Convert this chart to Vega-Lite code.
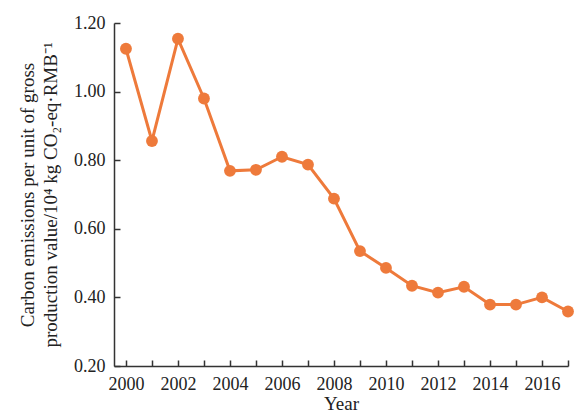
{
  "$schema": "https://vega.github.io/schema/vega-lite/v6.json",
  "width": 454,
  "height": 343,
  "autosize": {"type": "none"},
  "padding": {"left": 114, "top": 23, "right": 13, "bottom": 48},
  "background": "white",
  "config": {
    "view": {"stroke": null},
    "font": "Liberation Serif",
    "axis": {
      "grid": false,
      "domainColor": "#333333",
      "domainWidth": 1.5,
      "tickColor": "#333333",
      "tickWidth": 1.5,
      "tickSize": -6,
      "labelFont": "Liberation Serif",
      "labelFontSize": 18,
      "labelColor": "#222222",
      "titleFont": "Liberation Serif",
      "titleFontSize": 19,
      "titleFontWeight": "normal",
      "titleColor": "#222222"
    }
  },
  "data": {
    "values": [
      {"year": 2000, "value": 1.125},
      {"year": 2001, "value": 0.856},
      {"year": 2002, "value": 1.154},
      {"year": 2003, "value": 0.98},
      {"year": 2004, "value": 0.769},
      {"year": 2005, "value": 0.772},
      {"year": 2006, "value": 0.81},
      {"year": 2007, "value": 0.787},
      {"year": 2008, "value": 0.688},
      {"year": 2009, "value": 0.535},
      {"year": 2010, "value": 0.486},
      {"year": 2011, "value": 0.434},
      {"year": 2012, "value": 0.414},
      {"year": 2013, "value": 0.431},
      {"year": 2014, "value": 0.379},
      {"year": 2015, "value": 0.379},
      {"year": 2016, "value": 0.4},
      {"year": 2017, "value": 0.359}
    ]
  },
  "encoding": {
    "x": {
      "field": "year",
      "type": "quantitative",
      "scale": {"domain": [1999.54, 2017], "nice": false, "zero": false},
      "axis": {
        "title": "Year",
        "values": [2000, 2001, 2002, 2003, 2004, 2005, 2006, 2007, 2008, 2009, 2010, 2011, 2012, 2013, 2014, 2015, 2016, 2017],
        "labelExpr": "datum.value % 2 == 0 ? datum.value : ''",
        "format": "d",
        "labelPadding": 15,
        "titlePadding": 1,
        "labelFlush": false,
        "labelOverlap": false
      }
    },
    "y": {
      "field": "value",
      "type": "quantitative",
      "scale": {"domain": [0.2, 1.2], "nice": false, "zero": false},
      "axis": {
        "title": ["Carbon emissions per unit of gross", "production value/10⁴ kg CO₂-eq·RMB⁻¹"],
        "values": [0.2, 0.4, 0.6, 0.8, 1.0, 1.2],
        "format": ".2f",
        "labelPadding": 15,
        "titlePadding": 13,
        "titleLineHeight": 23,
        "labelFlush": false,
        "labelOverlap": false
      }
    }
  },
  "layer": [
    {"mark": {"type": "line", "color": "#EE7A3B", "strokeWidth": 3}},
    {"mark": {"type": "circle", "color": "#EE7A3B", "size": 140, "opacity": 1}}
  ]
}
